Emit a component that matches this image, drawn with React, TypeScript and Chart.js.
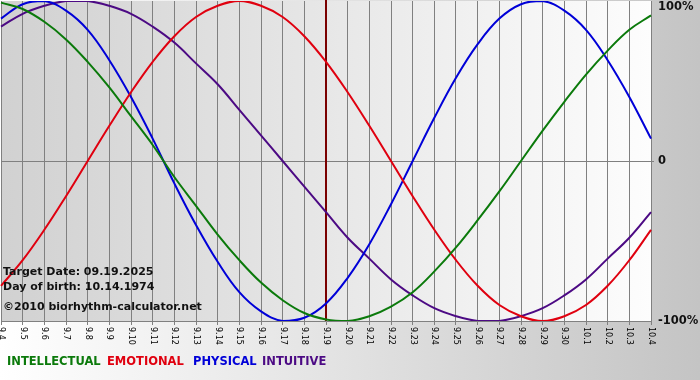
import React, { useEffect, useRef } from "react";
import { Chart, registerables } from "chart.js";

Chart.register(...registerables);

const dayLabels = [
  "9.4", "9.5", "9.6", "9.7", "9.8", "9.9", "9.10", "9.11", "9.12", "9.13",
  "9.14", "9.15", "9.16", "9.17", "9.18", "9.19", "9.20", "9.21", "9.22", "9.23",
  "9.24", "9.25", "9.26", "9.27", "9.28", "9.29", "9.30", "10.1", "10.2", "10.3", "10.4",
];

const intellectual = [99, 95, 87, 76, 62, 46, 28, 10, -10, -28, -46, -62, -76, -87, -95, -99, -100, -97, -91, -82, -69, -54, -37, -19, 0, 19, 37, 54, 69, 82, 91];
const emotional = [-78, -62, -43, -22, 0, 22, 43, 62, 78, 90, 97, 100, 97, 90, 78, 62, 43, 22, 0, -22, -43, -62, -78, -90, -97, -100, -97, -90, -78, -62, -43];
const physical = [89, 98, 100, 94, 82, 63, 40, 14, -14, -40, -63, -82, -94, -100, -98, -89, -73, -52, -27, 0, 27, 52, 73, 89, 98, 100, 94, 82, 63, 40, 14];
const intuitive = [84, 92, 97, 100, 100, 97, 92, 84, 74, 61, 48, 32, 16, 0, -16, -32, -48, -61, -74, -84, -92, -97, -100, -100, -97, -92, -84, -74, -61, -48, -32];

const yTickValues = [100, 0, -100];
const yTickLabels = ["100%", "0", "-100%"];

const targetIndex = 15; // 9.19
const infoLines = ["Target Date: 09.19.2025", "Day of birth: 10.14.1974", "©2010 biorhythm-calculator.net"];

const seriesNames = ["INTELLECTUAL", "EMOTIONAL", "PHYSICAL", "INTUITIVE"];
const seriesColors = ["#0b7a0b", "#e0000f", "#0000d8", "#4c0a84"];
const seriesData = [intellectual, emotional, physical, intuitive];

const FONT = "'DejaVu Sans', Verdana, sans-serif";

const bioPlugin = {
  id: "bio",
  beforeDraw(chart: any) {
    const { ctx, width, height, chartArea: a } = chart;
    ctx.save();
    const g = ctx.createLinearGradient(0, 0, width, 0);
    g.addColorStop(0, "#ffffff");
    g.addColorStop(1, "#c4c4c4");
    ctx.fillStyle = g;
    ctx.fillRect(0, 0, width, height);
    const pg = ctx.createLinearGradient(a.left, 0, a.right, 0);
    pg.addColorStop(0, "#d1d1d1");
    pg.addColorStop(1, "#fdfdfd");
    ctx.fillStyle = pg;
    ctx.fillRect(a.left, a.top, a.right - a.left, a.bottom - a.top);
    ctx.restore();
  },
  beforeDatasetsDraw(chart: any) {
    const { ctx, chartArea: a } = chart;
    const x = chart.scales.x.getPixelForValue(targetIndex);
    ctx.save();
    ctx.strokeStyle = "#7a0000";
    ctx.lineWidth = 2;
    ctx.beginPath();
    ctx.moveTo(x, a.top - 1);
    ctx.lineTo(x, a.bottom);
    ctx.stroke();
    ctx.restore();
  },
  afterDraw(chart: any) {
    const { ctx, chartArea: a } = chart;
    const xs = chart.scales.x;
    const ys = chart.scales.y;
    ctx.save();
    // x tick labels, rotated clockwise
    ctx.fillStyle = "#000";
    ctx.font = `8px ${FONT}`;
    ctx.textAlign = "left";
    ctx.textBaseline = "middle";
    dayLabels.forEach((lab, i) => {
      const x = xs.getPixelForValue(i);
      ctx.save();
      ctx.translate(x, a.bottom + 6);
      ctx.rotate(Math.PI / 2);
      ctx.fillText(lab, 0, 0);
      ctx.restore();
    });
    // y tick labels on right
    ctx.font = `bold 11.5px ${FONT}`;
    ctx.fillStyle = "#111";
    yTickValues.forEach((v, i) => {
      let y = ys.getPixelForValue(v);
      if (y < a.top + 6) y = a.top + 6;
      ctx.fillText(yTickLabels[i], a.right + 7, y + 0.5);
    });
    // info text
    ctx.font = `bold 11px ${FONT}`;
    ctx.fillStyle = "#111";
    const infoY = [272, 287, 307];
    infoLines.forEach((t, i) => ctx.fillText(t, 3, infoY[i]));
    // legend
    ctx.font = `bold 11.5px ${FONT}`;
    const legendX = [7, 107, 193, 262];
    seriesNames.forEach((n, i) => {
      ctx.fillStyle = seriesColors[i];
      ctx.fillText(n, legendX[i], 362);
    });
    ctx.restore();
  },
};

export default function App() {
  const ref = useRef<HTMLCanvasElement | null>(null);
  useEffect(() => {
    if (!ref.current) return;
    const chart = new Chart(ref.current, {
      type: "line",
      data: {
        labels: dayLabels,
        datasets: seriesData.map((d, i) => ({
          label: seriesNames[i],
          data: d,
          borderColor: seriesColors[i],
          backgroundColor: seriesColors[i],
          borderWidth: 2,
          pointRadius: 0,
          tension: 0.4,
          fill: false,
        })),
      },
      options: {
        animation: false,
        responsive: false,
        maintainAspectRatio: false,
        devicePixelRatio: 1,
        layout: { padding: { left: 1, top: 1, right: 0, bottom: 0 } },
        plugins: { legend: { display: false }, tooltip: { enabled: false } },
        scales: {
          x: {
            type: "category",
            offset: false,
            ticks: { display: false, autoSkip: false },
            grid: { color: "#808080", lineWidth: 1, tickLength: 4, offset: false },
            border: { color: "#808080" },
            afterFit: (s: any) => { s.height = 59; },
          },
          y: {
            position: "right",
            min: -100,
            max: 100,
            ticks: { display: false, stepSize: 100 },
            grid: {
              color: (c: any) => (c.tick && c.tick.value === 0 ? "#808080" : "rgba(0,0,0,0)"),
              tickLength: 3,
            },
            border: { color: "#808080" },
            afterFit: (s: any) => { s.width = 49; },
          },
        },
      },
      plugins: [bioPlugin],
    });
    return () => chart.destroy();
  }, []);
  return (
    <div style={{ position: "fixed", left: 0, top: 0, width: 700, height: 380 }}>
      <canvas ref={ref} width={700} height={380} style={{ display: "block", width: 700, height: 380 }} />
    </div>
  );
}
